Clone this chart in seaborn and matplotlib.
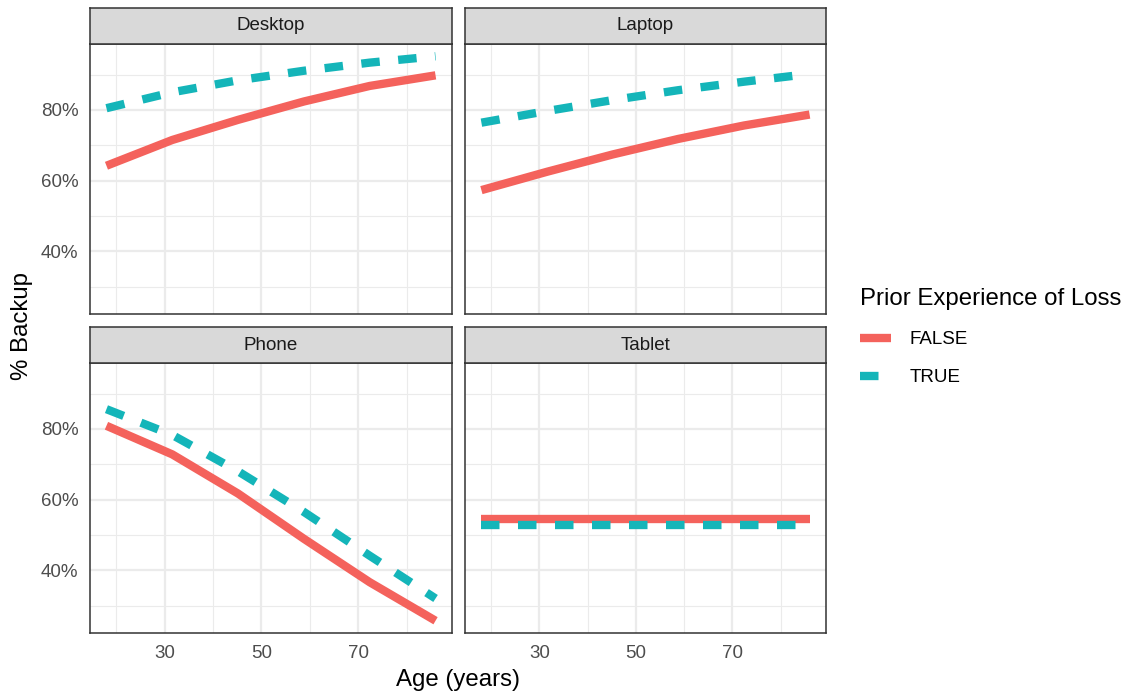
import numpy as np
import pandas as pd
import matplotlib
matplotlib.use("Agg")
import matplotlib.pyplot as plt
import seaborn as sns
from matplotlib.lines import Line2D
from matplotlib.ticker import FixedLocator, PercentFormatter

# ---------------- data ----------------
ages = [18, 31.6, 45.2, 58.8, 72.4, 86]
devices = ["Desktop", "Laptop", "Phone", "Tablet"]
loss_levels = ["FALSE", "TRUE"]

desktop_false = [64.2, 71.5, 77.2, 82.4, 86.8, 89.8]
desktop_true = [80.5, 85.0, 88.4, 91.1, 93.4, 95.2]
laptop_false = [57.3, 62.5, 67.4, 71.8, 75.6, 78.7]
laptop_true = [76.4, 79.7, 82.8, 85.6, 88.0, 90.2]
phone_false = [80.9, 72.8, 61.7, 48.9, 36.6, 25.7]
phone_true = [85.6, 78.3, 68.0, 56.5, 44.1, 32.0]
tablet_false = [54.6, 54.6, 54.6, 54.6, 54.6, 54.6]
tablet_true = [52.9, 52.9, 52.9, 52.9, 52.9, 52.9]

x_ticks = [30, 50, 70]
x_minor = [20, 40, 60, 80]
y_ticks = [40, 60, 80]
y_minor = [30, 50, 70, 90]

series = {
    ("Desktop", "FALSE"): desktop_false, ("Desktop", "TRUE"): desktop_true,
    ("Laptop", "FALSE"): laptop_false, ("Laptop", "TRUE"): laptop_true,
    ("Phone", "FALSE"): phone_false, ("Phone", "TRUE"): phone_true,
    ("Tablet", "FALSE"): tablet_false, ("Tablet", "TRUE"): tablet_true,
}
rows = []
for (dev, loss), vals in series.items():
    for a, v in zip(ages, vals):
        rows.append({"device": dev, "loss": loss, "age": a, "pct": v})
df = pd.DataFrame(rows)

# ---------------- style ----------------
sns.set_theme(style="white")
plt.rcParams["font.family"] = ["Liberation Sans", "DejaVu Sans"]

RED = "#F4625C"
TEAL = "#14B5B9"
palette = {"FALSE": RED, "TRUE": TEAL}
LW = 6.0
DASH = (2.22, 2.22)
dashes = {"FALSE": "", "TRUE": DASH}

W, H = 1126, 694
fig = plt.figure(figsize=(W / 100, H / 100), dpi=100)

def fx(px):
    return px / W

def fy(px):
    return 1 - px / H

cols = [(90, 452), (465, 826)]
rows_px = [((8, 44), (44, 314)), ((327, 363), (363, 633))]

xmin, xmax = min(ages), max(ages)
xr = xmax - xmin
ymin, ymax = df["pct"].min(), df["pct"].max()
yr = ymax - ymin

for i, dev in enumerate(devices):
    r, c = divmod(i, 2)
    (s0, s1), (p0, p1) = rows_px[r]
    x0, x1 = cols[c]
    ax = fig.add_axes([fx(x0), fy(p1), fx(x1) - fx(x0), fy(p0) - fy(p1)])
    sub = df[df["device"] == dev]
    sns.lineplot(data=sub, x="age", y="pct", hue="loss", style="loss",
                 hue_order=loss_levels, style_order=loss_levels,
                 palette=palette, dashes=dashes, linewidth=LW,
                 estimator=None, sort=False, legend=False, ax=ax,
                 solid_capstyle="butt", dash_capstyle="butt")
    ax.set_xlim(xmin - 0.05 * xr, xmax + 0.05 * xr)
    ax.set_ylim(ymin - 0.05 * yr, ymax + 0.05 * yr)
    ax.xaxis.set_major_locator(FixedLocator(x_ticks))
    ax.xaxis.set_minor_locator(FixedLocator(x_minor))
    ax.yaxis.set_major_locator(FixedLocator(y_ticks))
    ax.yaxis.set_minor_locator(FixedLocator(y_minor))
    ax.yaxis.set_major_formatter(PercentFormatter(decimals=0))
    ax.grid(which="major", color="#EBEBEB", lw=1.6)
    ax.grid(which="minor", color="#EBEBEB", lw=0.8)
    ax.set_axisbelow(True)
    ax.set_facecolor("white")
    for sp in ax.spines.values():
        sp.set_color("#333333")
        sp.set_linewidth(1.1)
    ax.set_xlabel("")
    ax.set_ylabel("")
    ax.tick_params(which="minor", length=0)
    ax.tick_params(which="major", labelsize=13.5, labelcolor="#4D4D4D",
                   color="#333333", width=1.1, length=4.6, pad=3.8)
    if c == 1:
        ax.tick_params(axis="y", length=0, labelleft=False)
    if r == 0:
        ax.tick_params(axis="x", length=0, labelbottom=False)
    # strip
    sax = fig.add_axes([fx(x0), fy(s1), fx(x1) - fx(x0), fy(s0) - fy(s1)])
    sax.set_facecolor("#D9D9D9")
    sax.set_xticks([])
    sax.set_yticks([])
    for sp in sax.spines.values():
        sp.set_color("#333333")
        sp.set_linewidth(1.1)
    sax.text(0.5, 0.5, dev, ha="center", va="center", fontsize=13.5,
             color="#1A1A1A", transform=sax.transAxes)

fig.text(fx(458), fy(680), "Age (years)", ha="center", va="center",
         fontsize=17.3, color="black")
fig.text(fx(22), fy(326), "% Backup", ha="center", va="center", rotation=90,
         fontsize=17.3, color="black")

handles = [
    Line2D([0], [0], color=RED, lw=LW, solid_capstyle="butt"),
    Line2D([0], [0], color=TEAL, lw=LW, dashes=DASH, dash_capstyle="butt"),
]
leg = fig.legend(handles, loss_levels, title="Prior Experience of Loss",
                 loc="upper left", bbox_to_anchor=(fx(860), fy(288)),
                 frameon=False, fontsize=13.5, title_fontsize=17.3,
                 handlelength=1.65, handletextpad=1.0, labelspacing=1.12,
                 alignment="left", borderpad=0, borderaxespad=0)
leg.get_title().set_color("black")
for t in leg.get_texts():
    t.set_color("black")

fig.savefig("out.png", dpi=100, facecolor="white")
